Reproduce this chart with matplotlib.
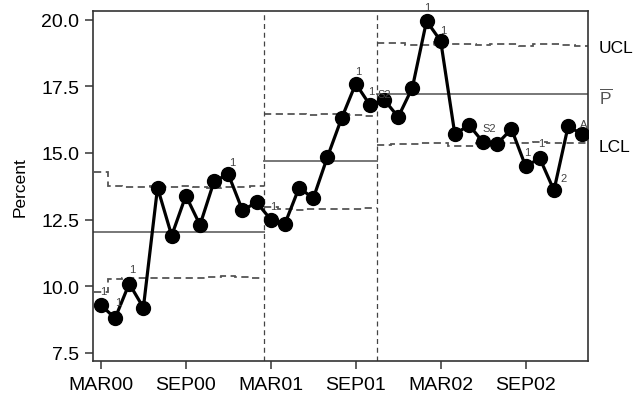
import numpy as np
import matplotlib.pyplot as plt

plt.rcParams['font.family'] = ['Liberation Sans', 'DejaVu Sans']
plt.rcParams['mathtext.fontset'] = 'custom'
plt.rcParams['mathtext.rm'] = 'Liberation Sans'

# monthly percent, MAR00 .. JAN03
percent = [9.3, 8.8, 10.1, 9.2, 13.7, 11.9, 13.4, 12.3, 13.95, 14.2, 12.85, 13.15,
           12.5, 12.35, 13.7, 13.3, 14.85, 16.3, 17.6, 16.8,
           17.0, 16.35, 17.45, 19.95, 19.2, 15.7, 16.05, 15.4, 15.35, 15.9,
           14.5, 14.8, 13.6, 16.0, 15.7]

# control limits per month, one list per phase
ucl_1 = [14.3, 13.75, 13.72, 13.74, 13.76, 13.73, 13.75, 13.72, 13.7, 13.74, 13.72, 13.78]
lcl_1 = [9.78, 10.28, 10.3, 10.32, 10.3, 10.31, 10.33, 10.3, 10.35, 10.38, 10.35, 10.3]
ucl_2 = [16.45, 16.47, 16.45, 16.44, 16.46, 16.45, 16.43, 16.38]
lcl_2 = [12.98, 12.9, 12.88, 12.9, 12.89, 12.9, 12.9, 12.95]
ucl_3 = [19.12, 19.12, 19.05, 19.05, 19.15, 19.08, 19.08, 19.05, 19.08, 19.1,
         19.03, 19.08, 19.08, 19.05, 19.0]
lcl_3 = [15.3, 15.32, 15.34, 15.38, 15.36, 15.28, 15.28, 15.38, 15.38, 15.38,
         15.37, 15.4, 15.38, 15.37, 15.38]
center = [12.03, 14.7, 17.2]
phase_start = [0, 12, 20]

tick_pos = [0, 6, 12, 18, 24, 30]
tick_labels = ["MAR00", "SEP00", "MAR01", "SEP01", "MAR02", "SEP02"]

# little test flags next to points (x, y, text)
flags = [(0.15, 9.83, "1"), (1.2, 9.42, "1"), (2.2, 10.66, "1"), (9.25, 14.67, "1"),
         (12.15, 13.02, "1"), (18.15, 18.08, "1"), (19.12, 17.33, "1"), (20.05, 17.22, "S2"),
         (23.08, 20.47, "1"), (24.15, 19.6, "1"), (27.4, 15.92, "S2"), (30.12, 15.05, "1"),
         (31.1, 15.36, "1"), (32.7, 14.05, "2"), (34.08, 16.1, "A")]

fig = plt.figure(figsize=(6.39, 4.10), dpi=100)
ax = fig.add_axes([0.1455, 0.1178, 0.7746, 0.852])

ucls = [ucl_1, ucl_2, ucl_3]
lcls = [lcl_1, lcl_2, lcl_3]
for i, start in enumerate(phase_start):
    n = len(ucls[i])
    edges = np.arange(start - 0.5, start + n, 1.0)
    ax.stairs(ucls[i], edges, baseline=None, color="#555555", linestyle=(0, (4, 2.5)), lw=1.3)
    ax.stairs(lcls[i], edges, baseline=None, color="#555555", linestyle=(0, (4, 2.5)), lw=1.3)
    ax.plot([edges[0] if i > 0 else -0.6, edges[-1]], [center[i], center[i]],
            color="#777777", lw=1.4)
    if i > 0:
        ax.axvline(start - 0.5, color="#444444", linestyle=(0, (4, 3)), lw=0.9)

ax.plot(range(len(percent)), percent, color="black", lw=2.3, marker="o", ms=10, zorder=5)

for x, y, t in flags:
    ax.text(x, y, t, fontsize=8, color="#444444", ha="center", va="center", zorder=6)

trans = ax.get_yaxis_transform()
ax.text(1.022, 18.94, "UCL", transform=trans, fontsize=12.5, va="center", ha="left")
ax.text(1.022, 17.12, r"$\overline{\mathrm{P}}$", transform=trans, fontsize=12.5, va="center", ha="left",
        color="#555555")
ax.text(1.022, 15.23, "LCL", transform=trans, fontsize=12.5, va="center", ha="left")

ax.set_xlim(-0.56, 34.4)
ax.set_ylim(7.21, 20.31)
ax.set_yticks([7.5, 10.0, 12.5, 15.0, 17.5, 20.0])
ax.set_yticklabels(["7.5", "10.0", "12.5", "15.0", "17.5", "20.0"])
ax.set_xticks(tick_pos)
ax.set_xticklabels(tick_labels)
ax.tick_params(labelsize=14, length=6, width=1.2, color="#444444", pad=4)
ax.tick_params(axis="x", pad=5)
ax.set_ylabel("Percent", fontsize=12.5, labelpad=10)
for s in ax.spines.values():
    s.set_color("#333333")
    s.set_linewidth(1.2)

fig.savefig("out.png", dpi=100)
